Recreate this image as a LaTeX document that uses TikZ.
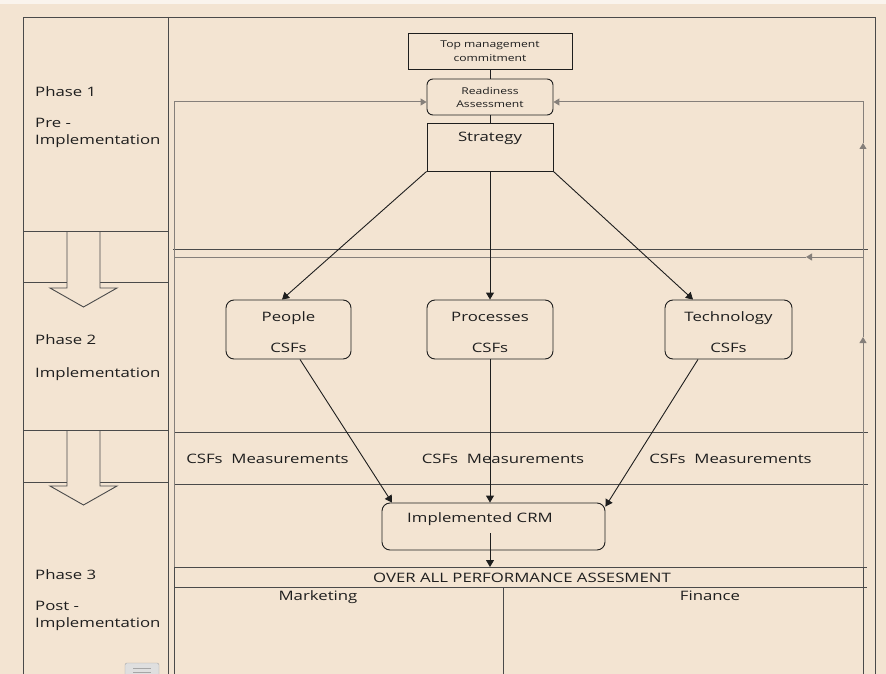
\documentclass[tikz,border=0pt]{standalone}
\usepackage{fontspec}
\setmainfont[FakeStretch=1.29]{Open Sans}
\usetikzlibrary{arrows.meta}
\definecolor{paper}{HTML}{F3E4D2}
\definecolor{ink}{HTML}{1E1E1E}
\definecolor{rule}{HTML}{4A4A4A}
\definecolor{loopgray}{HTML}{857F7A}
\tikzset{
  frame/.style={draw=rule, line width=0.9pt},
  box/.style={draw=ink, line width=0.9pt, inner sep=0pt},
  rbox/.style={box, rounded corners=8pt},
  flow/.style={draw=ink, line width=0.9pt, -{Triangle[length=7pt,width=8pt]}},
  fb/.style={draw=loopgray, line width=1pt},
  fbarrow/.style={fb, -{Triangle[length=6pt,width=7pt]}},
  blockarrow/.style={draw=rule, line width=0.9pt, fill=paper},
  txt/.style={inner sep=0pt, anchor=base, text=ink, font=\fontsize{13}{15}\selectfont},
  ltxt/.style={txt, anchor=base west},
  smalltxt/.style={txt, font=\fontsize{9.4}{11}\selectfont}
}
\begin{document}
\begin{tikzpicture}[x=1pt,y=-1pt]
\useasboundingbox (0,0) rectangle (886,674);
\fill[paper] (0,0) rectangle (886,674);
\fill[white!60!paper] (0,0) rectangle (886,4);

% outer frame and phase column
\draw[frame] (23,674) -- (23,17) -- (875,17) -- (875,674);
\draw[frame] (168,17) -- (168,674);
\foreach \yy in {282,482} \draw[frame] (23,\yy) -- (168,\yy);

% block arrows between phases
\draw[blockarrow] (67,231) -- (67,288) -- (50,288) -- (83.5,307) -- (117,288) -- (100,288) -- (100,231);
\draw[blockarrow] (67,430) -- (67,486) -- (50,486) -- (83.5,505) -- (117,486) -- (100,486) -- (100,430);
\foreach \yy in {231,430} \draw[frame] (23,\yy) -- (168,\yy);

% phase labels
\node[ltxt] (p1a) at (35,97) {Phase 1};
\node[ltxt] (p1b) at (35,128) {Pre -};
\node[ltxt] (p1c) at (35,145) {Implementation};
\node[ltxt] (p2a) at (35,344) {Phase 2};
\node[ltxt] (p2b) at (35,377) {Implementation};
\node[ltxt] (p3a) at (35,579) {Phase 3};
\node[ltxt] (p3b) at (35,610) {Post -};
\node[ltxt] (p3c) at (35,627) {Implementation};

% band separators
\draw[frame] (173,249) -- (868,249);
\draw[frame] (175,432) -- (868,432);
\draw[frame] (175,484) -- (868,484);

% boxes
\node[box, minimum width=164pt, minimum height=36pt] (top) at (490,51) {};
\node[box, rounded corners=6pt, minimum width=126pt, minimum height=36pt] (ready) at (490,97) {};
\node[box, minimum width=126pt, minimum height=48pt] (strat) at (490,147) {};
\node[rbox, minimum width=125pt, minimum height=59pt] (people) at (288.5,329.5) {};
\node[rbox, minimum width=126pt, minimum height=59pt] (proc) at (490,329.5) {};
\node[rbox, minimum width=127pt, minimum height=59pt] (tech) at (728.5,329.5) {};
\node[rbox, minimum width=223pt, minimum height=47pt] (crm) at (493.5,526.5) {};

% box texts
\node[smalltxt] (topT1) at (490,48) {Top management};
\node[smalltxt] (topT2) at (490,62) {commitment};
\node[smalltxt] (readyT1) at (490,95) {Readiness};
\node[smalltxt] (readyT2) at (490,108) {Assessment};
\node[txt] (stratT) at (490,142) {Strategy};
\node[txt] (peopleT1) at (288.5,321) {People};
\node[txt] (peopleT2) at (288.5,352) {CSFs};
\node[txt] (procT1) at (490,321) {Processes};
\node[txt] (procT2) at (490,352) {CSFs};
\node[txt] (techT1) at (728.5,321) {Technology};
\node[txt] (techT2) at (728.5,352) {CSFs};
\node[txt] (crmT) at (480,522) {Implemented CRM};

% measurement band
\node[txt] (m1) at (267.5,463) {CSFs\ \ Measurements};
\node[txt] (m2) at (503,463) {CSFs\ \ Measurements};
\node[txt] (m3) at (730.5,463) {CSFs\ \ Measurements};

% feedback loop (gray)
\coordinate (lb) at (174,674);
\coordinate (lt) at (174,102);
\coordinate (rb) at (863,674);
\coordinate (rt) at (863,102);
\coordinate (rmid) at (863,337);
\coordinate (rup) at (863,143);
\draw[fbarrow] (lb) -- (lt) -- (lt -| ready.west);
\draw[fbarrow] (rb) -- (rmid);
\draw[fbarrow] (rmid) -- (rup);
\draw[fbarrow] (rup) -- (rt) -- (rt -| ready.east);
\coordinate (gr) at (863,257);
\coordinate (gm) at (806,257);
\coordinate (gl) at (174,257);
\draw[fbarrow] (gr) -- (gm);
\draw[fb] (gm) -- (gl);

% vertical links
\draw[box] (top.south) -- (ready.north);
\draw[box] (ready.south) -- (strat.north);

% flow arrows
\draw[flow] (strat.south west) -- ([xshift=-6.5pt]people.north);
\draw[flow] (strat.south) -- (proc.north);
\draw[flow] (strat.south east) -- ([xshift=-35.5pt]tech.north);
\draw[flow] ([xshift=11.5pt]people.south) -- ([xshift=-101.5pt]crm.north);
\draw[flow] (proc.south) -- (proc.south |- crm.north);
\draw[flow] ([xshift=-30.5pt]tech.south) -- ([yshift=-4pt]crm.north east);

% overall performance assessment
\coordinate (perf) at (490,567);
\draw[flow] ([xshift=-3.5pt,yshift=-6.5pt]crm.center) -- (perf);
\draw[frame] (174,674) -- (174,567) -- (867,567);
\draw[frame] (174,587) -- (867,587);
\draw[frame] (863,567) -- (863,674);
\draw[frame] (503,587) -- (503,674);
\node[txt] (perfT) at (522,582) {OVER ALL PERFORMANCE ASSESMENT};
\node[txt] (mkt) at (318,600) {Marketing};
\node[txt] (fin) at (710,600) {Finance};

% comment marker at the foot of the phase column
\draw[draw=gray!70, fill=gray!25, rounded corners=2pt] (125,663) rectangle (159,680);
\draw[gray!70, line width=0.8pt] (133,668) -- (151,668) (133,672) -- (151,672);
\end{tikzpicture}
\end{document}
